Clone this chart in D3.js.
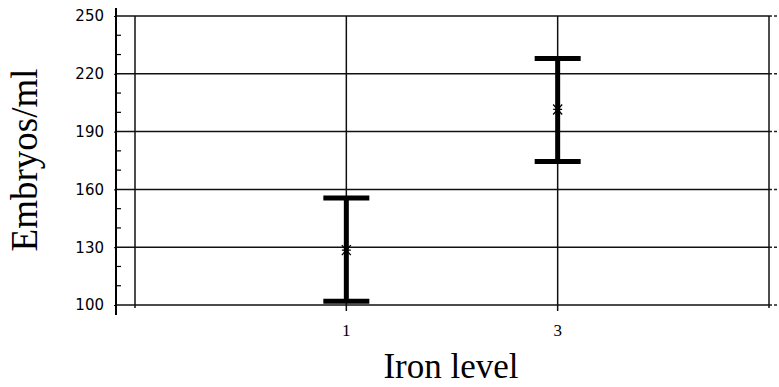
<!DOCTYPE html>
<html>
<head>
<meta charset="utf-8">
<script src="https://cdn.jsdelivr.net/npm/d3@7"></script>
<style>
body { margin: 0; background: #fff; }
</style>
</head>
<body>
<div id="vizDiv"></div>
<script>
var width = 779;
var height = 387;

// data
var ironLevels = ["1", "3"];
var meanValues = [128.5, 201.5];
var upperValues = [155.5, 228];
var lowerValues = [102, 174.5];
var yTickValues = [100, 130, 160, 190, 220, 250];

var plotLeft = 135, plotRight = 769, plotTop = 16, plotBottom = 305;
var axisX = 116;

var svg = d3.select("#vizDiv")
    .append("svg")
    .attr("width", width)
    .attr("height", height)

var y = d3.scaleLinear().domain([100, 250]).range([plotBottom, plotTop]);
// slots: left edge, categories, right edge
var x = d3.scalePoint().domain(["L"].concat(ironLevels).concat(["R"])).range([plotLeft, plotRight]);

// horizontal gridlines
svg.selectAll(".hgrid")
    .data(yTickValues)
    .enter().append("line")
    .attr("x1", axisX)
    .attr("x2", plotRight)
    .attr("y1", d => y(d))
    .attr("y2", d => y(d))
    .attr("stroke", "#111")
    .attr("stroke-width", 1.5)

// little dashes past the right edge
svg.selectAll(".hdash")
    .data(yTickValues)
    .enter().append("line")
    .attr("x1", plotRight)
    .attr("x2", width)
    .attr("y1", d => y(d))
    .attr("y2", d => y(d))
    .attr("stroke", "#222")
    .attr("stroke-width", 1.5)
    .attr("stroke-dasharray", "3,2")

// vertical gridlines
svg.selectAll(".vgrid")
    .data(x.domain())
    .enter().append("line")
    .attr("x1", d => x(d))
    .attr("x2", d => x(d))
    .attr("y1", plotTop)
    .attr("y2", (d, i) => (i == 0 || i == 3) ? plotBottom + 3 : plotBottom + 6)
    .attr("stroke", "#111")
    .attr("stroke-width", 1.5)

// y axis
var yAxis = d3.axisLeft(y)
    .tickValues(yTickValues)
    .tickSize(2)
    .tickPadding(10)
    .tickFormat(d3.format("d"));

var yg = svg.append("g")
    .attr("transform", "translate(" + axisX + ",0)")
    .call(yAxis)
yg.select(".domain").remove()
yg.attr("font-family", "'DejaVu Sans', sans-serif").attr("font-size", 15)
yg.selectAll("text").attr("fill", "#000")

svg.append("line")
    .attr("x1", axisX).attr("x2", axisX)
    .attr("y1", 8).attr("y2", 315)
    .attr("stroke", "#000").attr("stroke-width", 2)

// minor ticks
var minorTicks = d3.range(100, 251, 10).filter(d => yTickValues.indexOf(d) < 0);
svg.selectAll(".minor")
    .data(minorTicks)
    .enter().append("line")
    .attr("x1", axisX)
    .attr("x2", axisX + 5)
    .attr("y1", d => y(d))
    .attr("y2", d => y(d))
    .attr("stroke", "#000")
    .attr("stroke-width", 1.2)

// x tick labels
svg.selectAll(".xlab")
    .data(ironLevels)
    .enter().append("text")
    .attr("x", d => x(d))
    .attr("y", 336)
    .attr("text-anchor", "middle")
    .attr("font-family", "'Liberation Serif', serif")
    .attr("font-size", 17)
    .text(d => d)

// error bars
var capHalf = 23;
ironLevels.forEach(function(lvl, i) {
    var cx = x(lvl);
    svg.append("line")
        .attr("x1", cx).attr("x2", cx)
        .attr("y1", y(upperValues[i])).attr("y2", y(lowerValues[i]))
        .attr("stroke", "#000").attr("stroke-width", 5)
    svg.append("line")
        .attr("x1", cx - capHalf).attr("x2", cx + capHalf)
        .attr("y1", y(upperValues[i])).attr("y2", y(upperValues[i]))
        .attr("stroke", "#000").attr("stroke-width", 5)
    svg.append("line")
        .attr("x1", cx - capHalf).attr("x2", cx + capHalf)
        .attr("y1", y(lowerValues[i])).attr("y2", y(lowerValues[i]))
        .attr("stroke", "#000").attr("stroke-width", 5)
    // asterisk marker at the mean
    var my = y(meanValues[i]);
    svg.append("path")
        .attr("d", "M" + (cx - 4.5) + "," + (my - 5) + "L" + (cx + 4.5) + "," + (my + 5) +
                   "M" + (cx + 4.5) + "," + (my - 5) + "L" + (cx - 4.5) + "," + (my + 5) +
                   "M" + (cx - 4.5) + "," + my + "L" + (cx + 4.5) + "," + my)
        .attr("stroke", "#000").attr("stroke-width", 1.3)
})

// axis titles
svg.append("text")
    .attr("x", 451)
    .attr("y", 378)
    .attr("text-anchor", "middle")
    .style("font-family", "'Liberation Serif', serif")
    .style("font-size", "35px")
    .text("Iron level")

svg.append("text")
    .attr("transform", "translate(37,160) rotate(-90)")
    .attr("text-anchor", "middle")
    .style("font-family", "'Liberation Serif', serif")
    .style("font-size", "37px")
    .text("Embryos/ml")
</script>
</body>
</html>
